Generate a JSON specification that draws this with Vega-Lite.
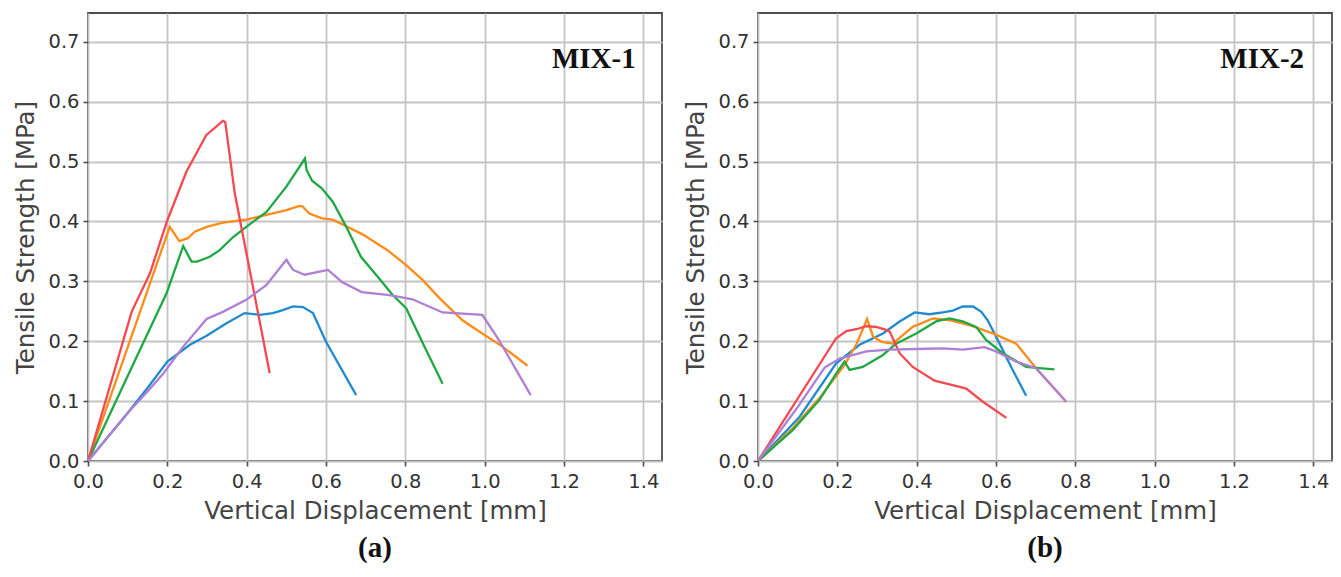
{
  "$schema": "https://vega.github.io/schema/vega-lite/v6.json",
  "background": "white",
  "padding": {"left": 13, "top": 12, "right": 5, "bottom": 5},
  "config": {
    "font": "DejaVu Sans",
    "view": {"stroke": "#4d4d4d", "strokeWidth": 1.8},
    "axis": {
      "labelFontSize": 19.5, "labelColor": "#333333", "labelFont": "DejaVu Sans",
      "titleFontSize": 24.5, "titleColor": "#444444", "titleFontWeight": "normal", "titleFont": "DejaVu Sans",
      "tickColor": "#4d4d4d", "tickSize": 5, "tickWidth": 1.6,
      "gridColor": "#c4c4c4", "gridWidth": 1.8,
      "domain": false, "labelPadding": 4, "labelFlush": false, "labelOverlap": false
    },
    "concat": {"spacing": 20}
  },
  "datasets": {
    "curves": [
      {"panel":"MIX-1","series":"S1","x":0,"y":0},
      {"panel":"MIX-1","series":"S1","x":0.05,"y":0.04},
      {"panel":"MIX-1","series":"S1","x":0.10,"y":0.08},
      {"panel":"MIX-1","series":"S1","x":0.15,"y":0.122},
      {"panel":"MIX-1","series":"S1","x":0.20,"y":0.166},
      {"panel":"MIX-1","series":"S1","x":0.257,"y":0.194},
      {"panel":"MIX-1","series":"S1","x":0.299,"y":0.209},
      {"panel":"MIX-1","series":"S1","x":0.349,"y":0.230},
      {"panel":"MIX-1","series":"S1","x":0.395,"y":0.247},
      {"panel":"MIX-1","series":"S1","x":0.433,"y":0.244},
      {"panel":"MIX-1","series":"S1","x":0.466,"y":0.247},
      {"panel":"MIX-1","series":"S1","x":0.491,"y":0.252},
      {"panel":"MIX-1","series":"S1","x":0.517,"y":0.258},
      {"panel":"MIX-1","series":"S1","x":0.542,"y":0.257},
      {"panel":"MIX-1","series":"S1","x":0.567,"y":0.247},
      {"panel":"MIX-1","series":"S1","x":0.600,"y":0.199},
      {"panel":"MIX-1","series":"S1","x":0.676,"y":0.110},

      {"panel":"MIX-1","series":"S2","x":0,"y":0},
      {"panel":"MIX-1","series":"S2","x":0.206,"y":0.391},
      {"panel":"MIX-1","series":"S2","x":0.230,"y":0.367},
      {"panel":"MIX-1","series":"S2","x":0.252,"y":0.372},
      {"panel":"MIX-1","series":"S2","x":0.269,"y":0.383},
      {"panel":"MIX-1","series":"S2","x":0.299,"y":0.391},
      {"panel":"MIX-1","series":"S2","x":0.340,"y":0.398},
      {"panel":"MIX-1","series":"S2","x":0.399,"y":0.403},
      {"panel":"MIX-1","series":"S2","x":0.450,"y":0.411},
      {"panel":"MIX-1","series":"S2","x":0.500,"y":0.419},
      {"panel":"MIX-1","series":"S2","x":0.533,"y":0.426},
      {"panel":"MIX-1","series":"S2","x":0.541,"y":0.425},
      {"panel":"MIX-1","series":"S2","x":0.558,"y":0.413},
      {"panel":"MIX-1","series":"S2","x":0.590,"y":0.405},
      {"panel":"MIX-1","series":"S2","x":0.617,"y":0.403},
      {"panel":"MIX-1","series":"S2","x":0.651,"y":0.392},
      {"panel":"MIX-1","series":"S2","x":0.693,"y":0.378},
      {"panel":"MIX-1","series":"S2","x":0.755,"y":0.352},
      {"panel":"MIX-1","series":"S2","x":0.802,"y":0.327},
      {"panel":"MIX-1","series":"S2","x":0.844,"y":0.302},
      {"panel":"MIX-1","series":"S2","x":0.886,"y":0.272},
      {"panel":"MIX-1","series":"S2","x":0.944,"y":0.235},
      {"panel":"MIX-1","series":"S2","x":0.994,"y":0.213},
      {"panel":"MIX-1","series":"S2","x":1.045,"y":0.191},
      {"panel":"MIX-1","series":"S2","x":1.108,"y":0.159},

      {"panel":"MIX-1","series":"S3","x":0,"y":0},
      {"panel":"MIX-1","series":"S3","x":0.10,"y":0.142},
      {"panel":"MIX-1","series":"S3","x":0.198,"y":0.280},
      {"panel":"MIX-1","series":"S3","x":0.240,"y":0.359},
      {"panel":"MIX-1","series":"S3","x":0.261,"y":0.333},
      {"panel":"MIX-1","series":"S3","x":0.275,"y":0.333},
      {"panel":"MIX-1","series":"S3","x":0.307,"y":0.341},
      {"panel":"MIX-1","series":"S3","x":0.332,"y":0.352},
      {"panel":"MIX-1","series":"S3","x":0.366,"y":0.374},
      {"panel":"MIX-1","series":"S3","x":0.399,"y":0.391},
      {"panel":"MIX-1","series":"S3","x":0.450,"y":0.416},
      {"panel":"MIX-1","series":"S3","x":0.500,"y":0.458},
      {"panel":"MIX-1","series":"S3","x":0.547,"y":0.505},
      {"panel":"MIX-1","series":"S3","x":0.551,"y":0.486},
      {"panel":"MIX-1","series":"S3","x":0.565,"y":0.468},
      {"panel":"MIX-1","series":"S3","x":0.590,"y":0.455},
      {"panel":"MIX-1","series":"S3","x":0.617,"y":0.433},
      {"panel":"MIX-1","series":"S3","x":0.651,"y":0.391},
      {"panel":"MIX-1","series":"S3","x":0.688,"y":0.341},
      {"panel":"MIX-1","series":"S3","x":0.735,"y":0.304},
      {"panel":"MIX-1","series":"S3","x":0.768,"y":0.277},
      {"panel":"MIX-1","series":"S3","x":0.802,"y":0.255},
      {"panel":"MIX-1","series":"S3","x":0.848,"y":0.191},
      {"panel":"MIX-1","series":"S3","x":0.894,"y":0.129},

      {"panel":"MIX-1","series":"S4","x":0,"y":0},
      {"panel":"MIX-1","series":"S4","x":0.110,"y":0.249},
      {"panel":"MIX-1","series":"S4","x":0.156,"y":0.313},
      {"panel":"MIX-1","series":"S4","x":0.200,"y":0.402},
      {"panel":"MIX-1","series":"S4","x":0.248,"y":0.483},
      {"panel":"MIX-1","series":"S4","x":0.298,"y":0.544},
      {"panel":"MIX-1","series":"S4","x":0.340,"y":0.568},
      {"panel":"MIX-1","series":"S4","x":0.346,"y":0.566},
      {"panel":"MIX-1","series":"S4","x":0.370,"y":0.447},
      {"panel":"MIX-1","series":"S4","x":0.458,"y":0.147},

      {"panel":"MIX-1","series":"S5","x":0,"y":0},
      {"panel":"MIX-1","series":"S5","x":0.10,"y":0.08},
      {"panel":"MIX-1","series":"S5","x":0.15,"y":0.116},
      {"panel":"MIX-1","series":"S5","x":0.19,"y":0.146},
      {"panel":"MIX-1","series":"S5","x":0.240,"y":0.191},
      {"panel":"MIX-1","series":"S5","x":0.299,"y":0.237},
      {"panel":"MIX-1","series":"S5","x":0.340,"y":0.249},
      {"panel":"MIX-1","series":"S5","x":0.399,"y":0.269},
      {"panel":"MIX-1","series":"S5","x":0.450,"y":0.294},
      {"panel":"MIX-1","series":"S5","x":0.500,"y":0.336},
      {"panel":"MIX-1","series":"S5","x":0.517,"y":0.319},
      {"panel":"MIX-1","series":"S5","x":0.546,"y":0.311},
      {"panel":"MIX-1","series":"S5","x":0.605,"y":0.319},
      {"panel":"MIX-1","series":"S5","x":0.640,"y":0.299},
      {"panel":"MIX-1","series":"S5","x":0.690,"y":0.282},
      {"panel":"MIX-1","series":"S5","x":0.760,"y":0.277},
      {"panel":"MIX-1","series":"S5","x":0.818,"y":0.270},
      {"panel":"MIX-1","series":"S5","x":0.894,"y":0.248},
      {"panel":"MIX-1","series":"S5","x":0.994,"y":0.244},
      {"panel":"MIX-1","series":"S5","x":1.036,"y":0.202},
      {"panel":"MIX-1","series":"S5","x":1.116,"y":0.110},

      {"panel":"MIX-2","series":"S1","x":0,"y":0},
      {"panel":"MIX-2","series":"S1","x":0.105,"y":0.074},
      {"panel":"MIX-2","series":"S1","x":0.197,"y":0.163},
      {"panel":"MIX-2","series":"S1","x":0.256,"y":0.194},
      {"panel":"MIX-2","series":"S1","x":0.315,"y":0.213},
      {"panel":"MIX-2","series":"S1","x":0.357,"y":0.233},
      {"panel":"MIX-2","series":"S1","x":0.395,"y":0.248},
      {"panel":"MIX-2","series":"S1","x":0.432,"y":0.245},
      {"panel":"MIX-2","series":"S1","x":0.466,"y":0.248},
      {"panel":"MIX-2","series":"S1","x":0.491,"y":0.251},
      {"panel":"MIX-2","series":"S1","x":0.516,"y":0.258},
      {"panel":"MIX-2","series":"S1","x":0.542,"y":0.258},
      {"panel":"MIX-2","series":"S1","x":0.563,"y":0.249},
      {"panel":"MIX-2","series":"S1","x":0.579,"y":0.235},
      {"panel":"MIX-2","series":"S1","x":0.609,"y":0.196},
      {"panel":"MIX-2","series":"S1","x":0.642,"y":0.152},
      {"panel":"MIX-2","series":"S1","x":0.676,"y":0.109},

      {"panel":"MIX-2","series":"S2","x":0,"y":0},
      {"panel":"MIX-2","series":"S2","x":0.088,"y":0.055},
      {"panel":"MIX-2","series":"S2","x":0.155,"y":0.105},
      {"panel":"MIX-2","series":"S2","x":0.218,"y":0.160},
      {"panel":"MIX-2","series":"S2","x":0.248,"y":0.195},
      {"panel":"MIX-2","series":"S2","x":0.275,"y":0.237},
      {"panel":"MIX-2","series":"S2","x":0.290,"y":0.208},
      {"panel":"MIX-2","series":"S2","x":0.311,"y":0.199},
      {"panel":"MIX-2","series":"S2","x":0.340,"y":0.196},
      {"panel":"MIX-2","series":"S2","x":0.390,"y":0.224},
      {"panel":"MIX-2","series":"S2","x":0.441,"y":0.238},
      {"panel":"MIX-2","series":"S2","x":0.483,"y":0.235},
      {"panel":"MIX-2","series":"S2","x":0.533,"y":0.227},
      {"panel":"MIX-2","series":"S2","x":0.592,"y":0.213},
      {"panel":"MIX-2","series":"S2","x":0.651,"y":0.196},
      {"panel":"MIX-2","series":"S2","x":0.701,"y":0.155},
      {"panel":"MIX-2","series":"S2","x":0.777,"y":0.099},

      {"panel":"MIX-2","series":"S3","x":0,"y":0},
      {"panel":"MIX-2","series":"S3","x":0.088,"y":0.052},
      {"panel":"MIX-2","series":"S3","x":0.155,"y":0.102},
      {"panel":"MIX-2","series":"S3","x":0.197,"y":0.146},
      {"panel":"MIX-2","series":"S3","x":0.218,"y":0.166},
      {"panel":"MIX-2","series":"S3","x":0.231,"y":0.152},
      {"panel":"MIX-2","series":"S3","x":0.264,"y":0.157},
      {"panel":"MIX-2","series":"S3","x":0.315,"y":0.177},
      {"panel":"MIX-2","series":"S3","x":0.348,"y":0.196},
      {"panel":"MIX-2","series":"S3","x":0.399,"y":0.213},
      {"panel":"MIX-2","series":"S3","x":0.449,"y":0.233},
      {"panel":"MIX-2","series":"S3","x":0.483,"y":0.238},
      {"panel":"MIX-2","series":"S3","x":0.516,"y":0.233},
      {"panel":"MIX-2","series":"S3","x":0.550,"y":0.224},
      {"panel":"MIX-2","series":"S3","x":0.575,"y":0.202},
      {"panel":"MIX-2","series":"S3","x":0.617,"y":0.180},
      {"panel":"MIX-2","series":"S3","x":0.676,"y":0.157},
      {"panel":"MIX-2","series":"S3","x":0.709,"y":0.155},
      {"panel":"MIX-2","series":"S3","x":0.747,"y":0.153},

      {"panel":"MIX-2","series":"S4","x":0,"y":0},
      {"panel":"MIX-2","series":"S4","x":0.197,"y":0.205},
      {"panel":"MIX-2","series":"S4","x":0.223,"y":0.217},
      {"panel":"MIX-2","series":"S4","x":0.248,"y":0.220},
      {"panel":"MIX-2","series":"S4","x":0.273,"y":0.225},
      {"panel":"MIX-2","series":"S4","x":0.298,"y":0.224},
      {"panel":"MIX-2","series":"S4","x":0.323,"y":0.219},
      {"panel":"MIX-2","series":"S4","x":0.332,"y":0.216},
      {"panel":"MIX-2","series":"S4","x":0.357,"y":0.180},
      {"panel":"MIX-2","series":"S4","x":0.390,"y":0.157},
      {"panel":"MIX-2","series":"S4","x":0.445,"y":0.134},
      {"panel":"MIX-2","series":"S4","x":0.483,"y":0.128},
      {"panel":"MIX-2","series":"S4","x":0.525,"y":0.121},
      {"panel":"MIX-2","series":"S4","x":0.567,"y":0.099},
      {"panel":"MIX-2","series":"S4","x":0.626,"y":0.072},

      {"panel":"MIX-2","series":"S5","x":0,"y":0},
      {"panel":"MIX-2","series":"S5","x":0.10,"y":0.09},
      {"panel":"MIX-2","series":"S5","x":0.168,"y":0.156},
      {"panel":"MIX-2","series":"S5","x":0.206,"y":0.171},
      {"panel":"MIX-2","series":"S5","x":0.273,"y":0.183},
      {"panel":"MIX-2","series":"S5","x":0.332,"y":0.186},
      {"panel":"MIX-2","series":"S5","x":0.399,"y":0.187},
      {"panel":"MIX-2","series":"S5","x":0.466,"y":0.188},
      {"panel":"MIX-2","series":"S5","x":0.516,"y":0.186},
      {"panel":"MIX-2","series":"S5","x":0.571,"y":0.190},
      {"panel":"MIX-2","series":"S5","x":0.600,"y":0.183},
      {"panel":"MIX-2","series":"S5","x":0.651,"y":0.166},
      {"panel":"MIX-2","series":"S5","x":0.701,"y":0.155},
      {"panel":"MIX-2","series":"S5","x":0.777,"y":0.099}
    ],
    "labels": [
      {"panel":"MIX-1","label":"MIX-1","lx":1.275,"ly":0.672},
      {"panel":"MIX-2","label":"MIX-2","lx":1.271,"ly":0.672}
    ]
  },
  "hconcat": [
    {
      "width": 574, "height": 448,
      "title": {"text": "(a)", "orient": "bottom", "font": "Liberation Serif", "fontSize": 29, "fontWeight": "bold", "color": "#111111", "offset": 11},
      "layer": [
        {
          "data": {"name": "curves"},
          "transform": [{"filter": "datum.panel === 'MIX-1'"}],
          "mark": {"type": "line", "strokeWidth": 2.3, "clip": true},
          "encoding": {
            "x": {"field": "x", "type": "quantitative", "scale": {"domain": [0, 1.447], "nice": false}, "axis": {"values": [0, 0.2, 0.4, 0.6, 0.8, 1.0, 1.2, 1.4], "format": ".1f", "title": "Vertical Displacement [mm]", "titlePadding": 9, "labelPadding": 6}},
            "y": {"field": "y", "type": "quantitative", "scale": {"domain": [0, 0.748], "nice": false}, "axis": {"values": [0, 0.1, 0.2, 0.3, 0.4, 0.5, 0.6, 0.7], "format": ".1f", "title": "Tensile Strength [MPa]", "titlePadding": 9}},
            "color": {"field": "series", "type": "nominal", "scale": {"domain": ["S1","S2","S3","S4","S5"], "range": ["#1f8bd0","#ff8c1a","#1fa843","#f5484f","#ad7fd6"]}, "legend": null}
          }
        },
        {
          "data": {"name": "labels"},
          "transform": [{"filter": "datum.panel === 'MIX-1'"}],
          "mark": {"type": "text", "font": "Liberation Serif", "fontSize": 29, "fontWeight": "bold", "color": "#111111", "align": "center", "baseline": "middle"},
          "encoding": {
            "x": {"field": "lx", "type": "quantitative"},
            "y": {"field": "ly", "type": "quantitative"},
            "text": {"field": "label"}
          }
        }
      ]
    },
    {
      "width": 574, "height": 448,
      "title": {"text": "(b)", "orient": "bottom", "font": "Liberation Serif", "fontSize": 29, "fontWeight": "bold", "color": "#111111", "offset": 11},
      "layer": [
        {
          "data": {"name": "curves"},
          "transform": [{"filter": "datum.panel === 'MIX-2'"}],
          "mark": {"type": "line", "strokeWidth": 2.3, "clip": true},
          "encoding": {
            "x": {"field": "x", "type": "quantitative", "scale": {"domain": [0, 1.447], "nice": false}, "axis": {"values": [0, 0.2, 0.4, 0.6, 0.8, 1.0, 1.2, 1.4], "format": ".1f", "title": "Vertical Displacement [mm]", "titlePadding": 9, "labelPadding": 6}},
            "y": {"field": "y", "type": "quantitative", "scale": {"domain": [0, 0.748], "nice": false}, "axis": {"values": [0, 0.1, 0.2, 0.3, 0.4, 0.5, 0.6, 0.7], "format": ".1f", "title": "Tensile Strength [MPa]", "titlePadding": 9}},
            "color": {"field": "series", "type": "nominal", "scale": {"domain": ["S1","S2","S3","S4","S5"], "range": ["#1f8bd0","#ff8c1a","#1fa843","#f5484f","#ad7fd6"]}, "legend": null}
          }
        },
        {
          "data": {"name": "labels"},
          "transform": [{"filter": "datum.panel === 'MIX-2'"}],
          "mark": {"type": "text", "font": "Liberation Serif", "fontSize": 29, "fontWeight": "bold", "color": "#111111", "align": "center", "baseline": "middle"},
          "encoding": {
            "x": {"field": "lx", "type": "quantitative"},
            "y": {"field": "ly", "type": "quantitative"},
            "text": {"field": "label"}
          }
        }
      ]
    }
  ]
}
